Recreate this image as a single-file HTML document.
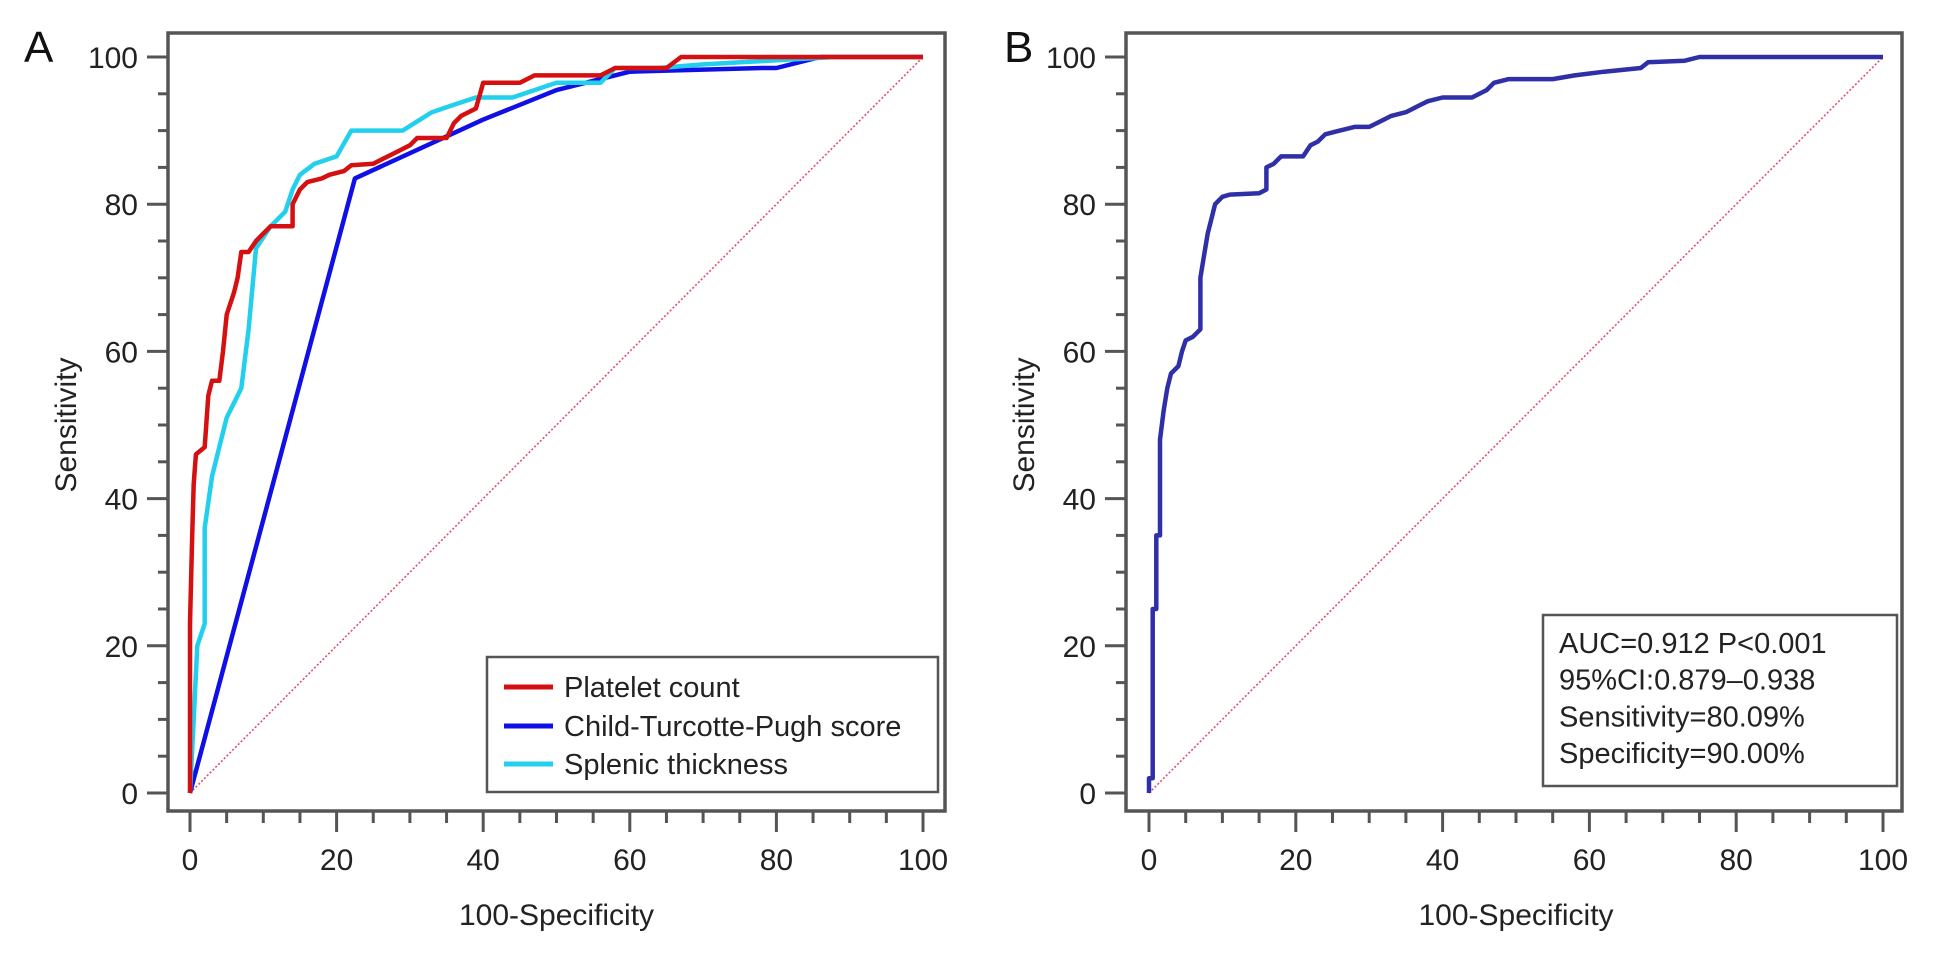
<!DOCTYPE html>
<html><head><meta charset="utf-8">
<style>
html,body{margin:0;padding:0;background:#fff;}
svg{display:block;font-family:"Liberation Sans",Arial,sans-serif;}
</style></head>
<body>
<svg id="chart" width="1937" height="956" viewBox="0 0 1937 956" xmlns="http://www.w3.org/2000/svg"></svg>
<script>
// Tick values
const xTicks = [0,20,40,60,80,100];
const yTicks = [0,20,40,60,80,100];
// Panel A series: [100-specificity, sensitivity]
const plateletX = [0,0,0.3,0.5,0.8,2,2.5,3,4,4.5,5,6,6.5,7,8,9,10,11,14,14,15,16,18,19,21,22,25,26,28,30,31,35,36,37,39,40,45,47,56,57,58,65,67,100];
const plateletY = [0,23,35,42,46,47,54,56,56,60,65,68,70,73.5,73.5,75,76,77,77,80,82,83,83.5,84,84.5,85.3,85.5,86,87,88,89,89,91,92,93,96.5,96.5,97.5,97.5,98,98.5,98.5,100,100];
const ctpX = [0,22.5,40,50,60,78,80,86,100];
const ctpY = [0,83.5,91.5,95.5,98,98.5,98.5,100,100];
const splenicX = [0,0.5,1,2,2,3,4,5,7,8,9,11,13,14,15,17,20,22,29,33,36,39,44,50,56,58,64,70,88,100];
const splenicY = [0,10,20,23,36,43,47,51,55,63,74,77,79,82,84,85.5,86.5,90,90,92.5,93.5,94.5,94.5,96.5,96.5,98.5,98.5,99,100,100];
// Panel B series
const combX = [0,0,0.5,0.5,1,1,1.5,1.5,2,2.5,3,4,4.5,5,6,7,7,7.5,8,8.5,9,10,11,15,16,16,17,18,21,22,23,24,26,28,30,32,33,35,37,38,40,44,46,47,49,55,58,62,67,68,73,75,100];
const combY = [0,2,2,25,25,35,35,48,52,55,57,58,60,61.5,62,63,70,73,76,78,80,81,81.3,81.5,82,85,85.5,86.5,86.5,88,88.5,89.5,90,90.5,90.5,91.5,92,92.5,93.5,94,94.5,94.5,95.5,96.5,97,97,97.5,98,98.5,99.3,99.5,100,100];
const legendA = ["Platelet count","Child-Turcotte-Pugh score","Splenic thickness"];
const statsB = ["AUC=0.912 P<0.001","95%CI:0.879–0.938","Sensitivity=80.09%","Specificity=90.00%"];

const NS="http://www.w3.org/2000/svg";
const svg=document.getElementById('chart');
function mk(tag,attrs,parent){const e=document.createElementNS(NS,tag);for(const k in attrs)e.setAttribute(k,attrs[k]);(parent||svg).appendChild(e);return e;}

function panel(p){
  const g=mk('g',{});
  
  
  const sx=v=>p.x0+(p.x1-p.x0)*v/100;
  const sy=v=>p.y0+(p.y1-p.y0)*v/100;
  const L=mk('text',{x:p.letterX,y:62,'font-size':44,fill:'#111'},g);L.textContent=p.letter;
  
  
  const d=mk('line',{x1:sx(0),y1:sy(0),x2:sx(100),y2:sy(100),stroke:'#e0506a','stroke-width':1.6,'stroke-dasharray':'2 2'},g);
  
  
  p.series.forEach(s=>{
    const pts=s.x.map((v,i)=>sx(v).toFixed(1)+','+sy(s.y[i]).toFixed(1)).join(' ');
    const pl=mk('polyline',{points:pts,fill:'none',stroke:s.color,'stroke-width':4.5,'stroke-linejoin':'round'},g);
    
    
  });
  const f=mk('rect',{x:p.fl,y:33,width:p.fr-p.fl,height:811-33,fill:'none',stroke:'#555','stroke-width':3.5},g);
  
  
  for(let v=0;v<=100;v+=5){
    const maj=v%20===0;
    const t=mk('line',{x1:sx(v),x2:sx(v),y1:811,y2:maj?832:823,stroke:'#555','stroke-width':3},g);
    
    
  }
  xTicks.forEach(v=>{
    const t=mk('text',{x:sx(v),y:870,'font-size':30,'text-anchor':'middle',fill:'#222'},g);t.textContent=v;
    
    
  });
  for(let v=0;v<=100;v+=5){
    const maj=v%20===0;
    const t=mk('line',{y1:sy(v),y2:sy(v),x1:p.fl,x2:p.fl-(maj?21:10),stroke:'#555','stroke-width':3},g);
    
    
  }
  yTicks.forEach(v=>{
    const t=mk('text',{x:p.fl-30,y:sy(v)+11,'font-size':30,'text-anchor':'end',fill:'#222'},g);t.textContent=v;
    
    
  });
  const xl=mk('text',{x:(sx(0)+sx(100))/2,y:925,'font-size':30,'text-anchor':'middle',fill:'#222'},g);xl.textContent='100-Specificity';
  
  
  const yl=mk('text',{x:0,y:0,'font-size':30,'text-anchor':'middle',fill:'#222',transform:`translate(${p.ylX},${(sy(0)+sy(100))/2}) rotate(-90)`},g);yl.textContent='Sensitivity';
  
  
  return g;
}

panel({name:'panel-a',letter:'A',letterX:24,fl:168,fr:945,x0:190,x1:923,y0:793,y1:57,ylX:76,
  series:[{name:'ctp-score-line',x:ctpX,y:ctpY,color:'#1010e6'},
          {name:'splenic-thickness-line',x:splenicX,y:splenicY,color:'#22d0ee'},
          {name:'platelet-count-line',x:plateletX,y:plateletY,color:'#d41010'}]});
panel({name:'panel-b',letter:'B',letterX:1004,fl:1126,fr:1902,x0:1149,x1:1883,y0:793,y1:57,ylX:1034,
  series:[{name:'combined-roc-line',x:combX,y:combY,color:'#2f2fa8'}]});

const lg=mk('g',{});


const lb=mk('rect',{x:487,y:657,width:451,height:135,fill:'#fff',stroke:'#555','stroke-width':2.5},lg);


const lcol=['#d41010','#1010e6','#22d0ee'];
const lys=[687,726,764];
legendA.forEach((t,i)=>{
  const ln=mk('line',{x1:504,x2:553,y1:lys[i],y2:lys[i],stroke:lcol[i],'stroke-width':5},lg);
  
  
  const tx=mk('text',{x:564,y:lys[i]+10,'font-size':29,fill:'#222'},lg);tx.textContent=t;
  
  
});
const sb=mk('g',{});


const sr=mk('rect',{x:1543,y:615,width:354,height:171,fill:'#fff',stroke:'#555','stroke-width':2.5},sb);


statsB.forEach((t,i)=>{
  const tx=mk('text',{x:1559,y:653+i*36.7,'font-size':29,fill:'#222'},sb);tx.textContent=t;
  
  
});
</script>
</body></html>
